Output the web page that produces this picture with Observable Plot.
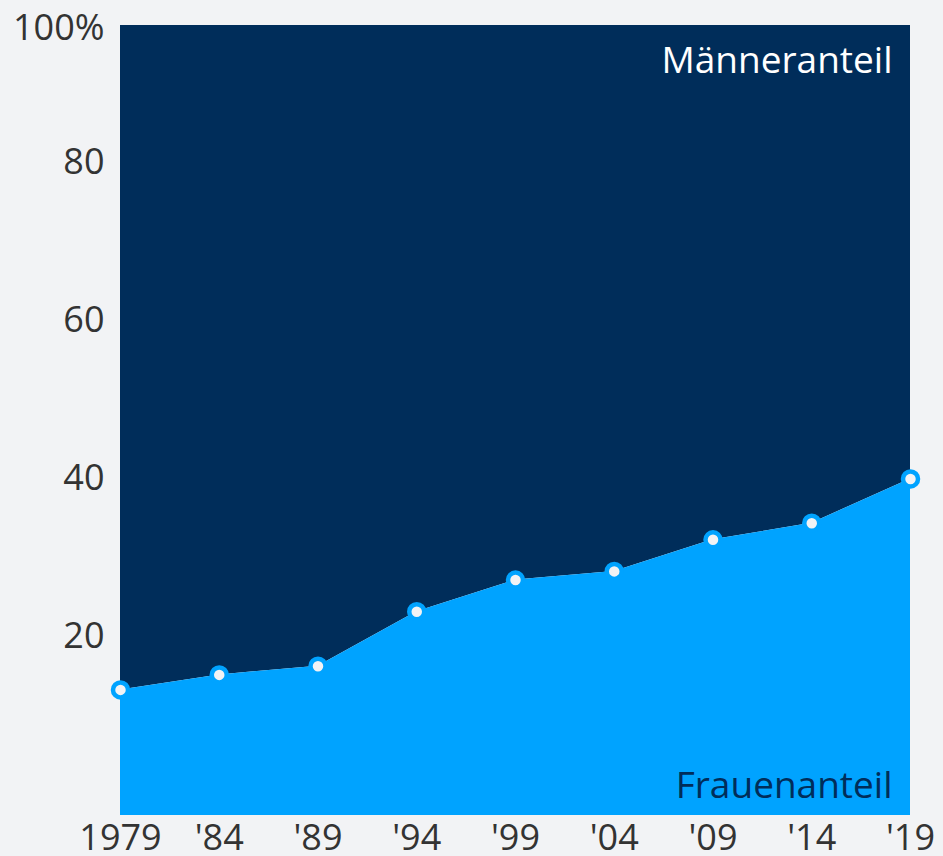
<!DOCTYPE html>
<html>
<head>
<meta charset="utf-8">
<script src="https://cdn.jsdelivr.net/npm/d3@7"></script>
<script src="https://cdn.jsdelivr.net/npm/@observablehq/plot@0.6"></script>
<style>
  html, body { margin: 0; padding: 0; background: #f2f3f5; }
  #chart svg { display: block; }
</style>
</head>
<body>
<div id="chart"></div>
<script>
const years = [1979, 1984, 1989, 1994, 1999, 2004, 2009, 2014, 2019];
const women = [15.9, 17.8, 18.9, 25.8, 29.8, 30.9, 34.9, 37.0, 42.6];
const xTickLabels = ["1979", "'84", "'89", "'94", "'99", "'04", "'09", "'14", "'19"];
const yTicks = [20, 40, 60, 80];
const yTopTick = [100];
const labelMen = "Männeranteil";
const labelWomen = "Frauenanteil";

const data = years.map((y, i) => ({year: y, women: women[i]}));

const navy = "#002d5a";
const light = "#00a3ff";
const bg = "#f2f3f5";
const textColor = "#333333";

const chart = Plot.plot({
  width: 943,
  height: 856,
  marginLeft: 120,
  marginRight: 33,
  marginTop: 25,
  marginBottom: 41,
  style: {background: bg, fontFamily: "'Open Sans', 'Noto Sans', sans-serif", color: textColor},
  x: {domain: [1979, 2019]},
  y: {domain: [0, 100]},
  marks: [
    Plot.areaY(data, {x: "year", y1: "women", y2: () => 100, fill: navy}),
    Plot.areaY(data, {x: "year", y1: 0, y2: "women", fill: light}),
    Plot.dot(data, {x: "year", y: "women", r: 7.5, fill: bg, stroke: light, strokeWidth: 4.5}),
    Plot.axisX({ticks: years, tickSize: 0, tickPadding: 9, fontSize: 36, fill: textColor,
      tickFormat: d => xTickLabels[years.indexOf(d)], label: null}),
    Plot.axisY({ticks: yTicks, tickSize: 0, tickPadding: 16, fontSize: 36, fill: textColor,
      dy: -21, tickFormat: d => String(d), label: null}),
    Plot.axisY({ticks: yTopTick, tickSize: 0, tickPadding: 16, fontSize: 36, fill: textColor,
      dy: 3, tickFormat: d => d + "%", label: null}),
    Plot.text([labelMen], {frameAnchor: "top-right", lineAnchor: "top", dx: -18, dy: 21,
      text: d => d, fontSize: 37, fill: "#ffffff"}),
    Plot.text([labelWomen], {frameAnchor: "bottom-right", lineAnchor: "bottom", dx: -18, dy: -18,
      text: d => d, fontSize: 37, fill: navy})
  ]
});
document.getElementById("chart").appendChild(chart);
</script>
</body>
</html>
